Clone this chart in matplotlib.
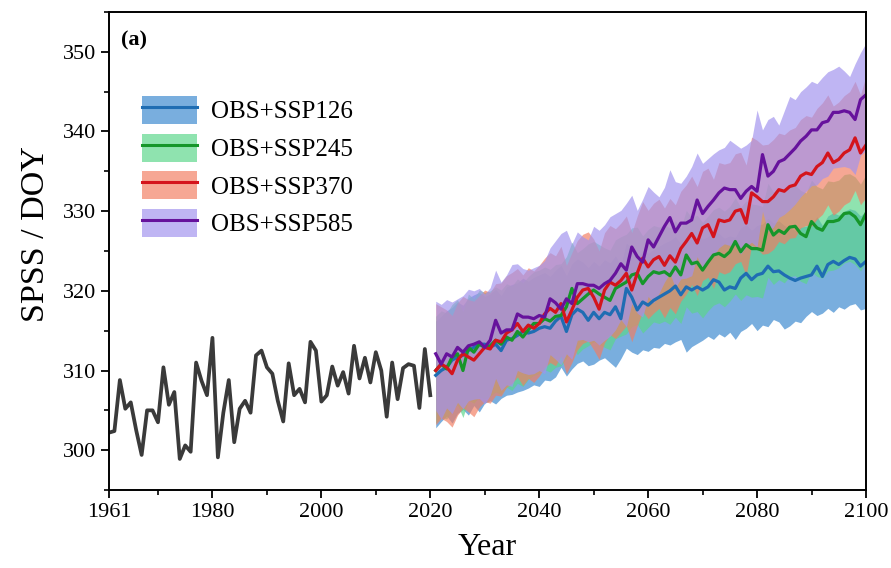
import matplotlib

matplotlib.use("Agg")

import matplotlib.pyplot as plt
import numpy as np
from matplotlib.lines import Line2D
from matplotlib.patches import Patch
from matplotlib.ticker import MultipleLocator

plt.rcParams["font.family"] = ["Liberation Serif", "DejaVu Serif"]

# --- observed SPSS (DOY), 1961-2020 ---
obs_years = np.arange(1961, 2021)
obs = [
    302.2, 302.4, 308.8, 305.2, 306.0, 302.5, 299.4, 305.0, 305.0, 303.5,
    310.4, 305.7, 307.3, 298.9, 300.6, 299.8, 311.0, 308.7, 306.9, 314.1,
    299.1, 304.7, 308.8, 301.0, 305.2, 306.2, 304.7, 311.9, 312.5, 310.4,
    309.6, 306.2, 303.6, 310.9, 306.9, 307.7, 306.0, 313.6, 312.5, 306.1,
    306.9, 310.5, 308.1, 309.8, 307.1, 313.1, 309.0, 311.6, 308.5, 312.3,
    310.0, 304.2, 311.0, 306.4, 310.3, 310.8, 310.6, 305.3, 312.7, 306.9,
]

# --- projections, 2021-2100 ---
proj_years = np.arange(2021, 2101)

ssp126 = [
    309.4, 310.0, 310.4, 311.3, 311.7, 311.9, 312.5, 312.9, 313.3, 313.3,
    312.9, 313.3, 312.5, 313.8, 314.0, 314.4, 314.9, 314.7, 314.9, 315.3,
    315.5, 315.3, 316.2, 316.8, 314.9, 317.0, 317.7, 317.3, 316.3, 317.3,
    316.5, 317.3, 317.0, 318.0, 316.5, 320.3, 319.2, 317.6, 318.6, 318.2,
    318.8, 319.2, 319.6, 320.0, 320.6, 319.5, 320.5, 320.1, 320.5, 320.1,
    320.5, 321.4, 321.1, 320.1, 320.5, 320.3, 321.6, 322.2, 321.4, 322.0,
    322.2, 323.1, 322.4, 322.5, 322.0, 321.6, 321.3, 321.6, 321.8, 322.0,
    323.1, 321.8, 323.3, 323.7, 323.3, 323.8, 324.2, 324.0, 323.1, 323.7,
]
ssp126_lo = [
    302.8, 303.6, 304.3, 303.4, 304.6, 305.1, 304.4, 305.6, 304.8, 305.9,
    306.2, 305.8, 306.5, 306.9, 307.0, 307.3, 307.5, 307.8, 308.2, 308.0,
    308.8, 308.7, 309.2, 310.4, 309.3, 310.2, 310.9, 311.2, 310.6, 310.8,
    311.3, 311.6, 311.0, 310.4, 311.5, 312.8, 312.3, 312.0, 312.6, 312.4,
    312.9, 312.8, 313.4, 313.2, 313.6, 313.9, 312.3, 313.0, 313.4, 313.8,
    314.3, 313.9, 314.6, 314.2, 314.8, 313.9, 314.9, 315.3, 315.9, 315.0,
    315.7, 315.5, 316.4, 316.1, 315.2, 315.6, 316.2, 316.0, 316.8, 317.4,
    316.9, 317.2, 317.8, 317.3, 318.0, 317.7, 318.2, 318.4, 317.6, 317.8,
]
ssp126_hi = [
    316.2, 316.8, 317.5, 317.9, 318.6, 318.2, 319.1, 319.5, 319.8, 319.3,
    319.6, 320.2, 319.4, 320.5, 320.8, 321.0, 321.6, 321.2, 321.7, 322.0,
    322.3, 321.8, 322.6, 323.2, 321.9, 323.4, 324.0, 323.6, 322.9, 323.7,
    323.1, 323.9, 323.5, 324.4, 323.2, 326.0, 325.4, 324.2, 325.0, 324.7,
    325.2, 325.6, 326.0, 326.3, 326.8, 325.9, 326.7, 326.4, 326.9, 326.5,
    326.8, 327.5, 327.2, 326.6, 326.9, 326.7, 327.9, 328.3, 327.6, 328.2,
    328.4, 329.1, 328.5, 328.8, 328.2, 327.9, 327.6, 328.0, 328.1, 328.4,
    329.3, 328.2, 329.4, 329.8, 329.5, 330.0, 330.3, 330.1, 329.4, 330.0,
]

ssp245 = [
    310.0, 310.8, 310.2, 311.7, 312.1, 310.0, 312.9, 312.3, 313.3, 312.9,
    313.1, 313.8, 313.3, 314.2, 313.8, 314.9, 314.2, 315.1, 315.9, 315.9,
    316.5, 316.2, 316.8, 316.9, 318.0, 320.3, 318.4, 319.0, 319.6, 320.1,
    319.6, 319.2, 318.8, 320.3, 320.7, 321.1, 322.0, 322.2, 320.9, 321.8,
    322.4, 322.2, 322.4, 321.9, 323.0, 322.0, 324.5, 323.4, 323.6, 322.6,
    323.6, 324.5, 324.7, 324.3, 324.9, 326.2, 324.9, 325.8, 325.3, 325.3,
    325.1, 328.3, 327.0, 327.6, 327.2, 328.0, 328.1, 327.2, 326.8, 328.7,
    327.9, 327.6, 328.7, 328.7, 328.9, 329.7, 329.8, 329.3, 328.3, 329.7,
]
ssp245_lo = [
    303.4, 304.2, 303.9, 305.0, 305.7, 304.1, 306.3, 305.9, 306.7, 306.4,
    306.8, 307.3, 307.0, 307.9, 307.5, 308.4, 308.0, 308.9, 309.4, 309.6,
    310.1, 309.8, 310.4, 310.6, 311.5, 313.2, 312.0, 312.7, 313.1, 313.6,
    313.3, 312.9, 312.6, 314.0, 314.3, 314.6, 315.5, 315.8, 314.7, 315.4,
    316.1, 315.9, 316.2, 315.8, 316.7, 315.9, 318.0, 317.2, 317.4, 316.6,
    317.5, 318.2, 318.5, 318.0, 318.7, 319.6, 318.8, 319.5, 319.2, 319.3,
    319.1, 321.7, 320.8, 321.4, 321.0, 321.8, 321.9, 321.2, 320.9, 322.4,
    321.8, 321.6, 322.5, 322.6, 322.9, 323.5, 323.7, 323.3, 322.5, 323.6,
]
ssp245_hi = [
    316.8, 317.5, 317.2, 318.3, 318.9, 317.4, 319.6, 319.0, 320.1, 319.8,
    320.0, 320.5, 320.1, 320.9, 320.6, 321.5, 321.0, 321.8, 322.4, 322.6,
    323.0, 322.7, 323.3, 323.4, 324.3, 326.1, 324.8, 325.3, 325.9, 326.2,
    325.8, 325.4, 325.1, 326.4, 326.8, 327.1, 327.9, 328.0, 326.9, 327.7,
    328.2, 328.0, 328.3, 327.9, 328.8, 327.8, 330.1, 329.2, 329.5, 328.6,
    329.4, 330.2, 330.5, 330.0, 330.6, 331.7, 330.5, 331.3, 330.9, 330.8,
    330.6, 333.5, 332.4, 332.9, 332.5, 333.2, 333.3, 332.6, 332.3, 333.9,
    333.1, 332.8, 333.8, 333.7, 333.9, 334.6, 334.7, 334.3, 333.4, 334.6,
]

ssp370 = [
    310.0, 310.8, 310.4, 309.6, 311.3, 312.1, 311.7, 311.3, 312.1, 312.9,
    312.7, 313.8, 313.6, 314.7, 315.1, 315.9, 314.9, 315.7, 315.3, 315.9,
    317.1, 317.8, 317.3, 318.4, 316.1, 317.6, 319.2, 320.1, 320.3, 319.2,
    317.7, 320.1, 321.1, 320.7, 321.3, 322.2, 320.1, 322.2, 324.1, 323.0,
    323.9, 324.3, 323.2, 324.4, 323.6, 325.3, 326.2, 327.2, 326.0, 327.9,
    328.3, 326.8, 328.9, 328.7, 328.9, 330.0, 330.2, 328.5, 332.3, 331.8,
    331.2, 331.2, 331.8, 332.7, 332.5, 333.1, 333.3, 334.4, 334.8, 334.6,
    335.6, 336.1, 337.3, 336.1, 336.5, 337.3, 337.7, 339.2, 337.3, 338.3,
]
ssp370_lo = [
    303.2, 304.0, 303.6, 302.9, 304.4, 305.3, 304.8, 304.2, 305.4, 306.1,
    305.9, 306.9, 306.8, 307.9, 308.4, 309.2, 308.1, 309.0, 308.5, 309.3,
    310.4, 311.0, 310.6, 311.8, 309.6, 311.0, 312.6, 313.4, 313.7, 312.6,
    311.4, 313.5, 314.5, 314.0, 314.8, 315.6, 313.6, 315.6, 317.4, 316.5,
    317.2, 317.8, 316.6, 317.9, 317.1, 318.7, 319.6, 320.8, 319.4, 321.3,
    321.7, 320.3, 322.4, 322.1, 322.4, 323.4, 323.7, 321.9, 325.7, 325.3,
    324.6, 324.7, 325.2, 326.2, 325.9, 326.6, 326.7, 327.9, 328.2, 328.1,
    329.0, 329.6, 330.8, 329.5, 330.0, 330.8, 331.2, 332.6, 330.8, 331.7,
]
ssp370_hi = [
    318.4, 318.0, 317.6, 316.9, 318.5, 319.3, 318.9, 318.7, 319.4, 320.1,
    319.8, 320.9, 321.0, 321.9, 322.3, 322.8, 322.0, 322.9, 322.5, 323.2,
    324.1, 324.8, 324.4, 325.6, 323.2, 324.8, 326.3, 327.1, 327.4, 326.5,
    325.0, 327.3, 328.2, 327.8, 328.5, 329.4, 327.3, 329.4, 331.2, 330.1,
    331.0, 331.5, 330.4, 331.6, 330.8, 332.5, 333.3, 334.4, 333.1, 335.0,
    335.4, 334.0, 336.1, 335.9, 336.1, 337.2, 337.4, 335.8, 339.3, 338.9,
    338.3, 338.4, 339.0, 339.8, 339.6, 340.2, 340.5, 341.5, 342.0, 341.8,
    342.9, 343.6, 344.6, 343.2, 343.7, 344.5, 345.0, 346.3, 344.6, 347.0,
]

ssp585 = [
    312.1, 310.8, 312.1, 311.7, 312.9, 312.3, 313.1, 313.3, 313.6, 312.9,
    313.8, 316.3, 314.7, 315.1, 315.1, 317.1, 316.7, 316.7, 316.5, 316.9,
    316.7, 319.0, 318.5, 317.7, 319.0, 318.4, 320.9, 320.9, 320.7, 320.7,
    320.3, 320.9, 321.3, 322.2, 323.4, 322.6, 325.5, 324.3, 323.6, 326.4,
    325.5, 326.8, 328.1, 329.2, 327.4, 328.5, 328.5, 328.9, 331.4, 329.7,
    330.6, 331.4, 332.3, 332.9, 332.7, 332.7, 331.6, 332.5, 333.1, 332.5,
    337.1, 334.4, 335.0, 336.2, 336.5, 337.2, 337.9, 338.8, 339.4, 340.2,
    340.2, 341.1, 341.3, 342.4, 342.4, 342.6, 342.4, 341.5, 344.0, 344.6,
]
ssp585_lo = [
    305.0, 303.9, 305.3, 304.6, 306.0, 305.2, 306.2, 306.4, 306.5, 305.8,
    306.9, 309.0, 307.5, 308.2, 308.0, 310.0, 309.7, 309.5, 309.6, 310.0,
    309.6, 312.0, 311.4, 310.7, 312.1, 311.4, 313.8, 313.9, 313.6, 313.8,
    313.2, 313.8, 314.3, 315.1, 316.4, 315.5, 318.4, 317.2, 316.7, 319.3,
    318.5, 319.7, 321.1, 322.2, 320.4, 321.5, 321.6, 321.9, 324.3, 322.8,
    323.6, 324.4, 325.4, 325.9, 325.7, 325.8, 324.6, 325.6, 326.1, 325.5,
    330.0, 327.5, 328.0, 329.2, 329.6, 330.2, 330.9, 331.8, 332.5, 333.2,
    333.3, 334.1, 334.4, 335.4, 335.5, 335.6, 335.4, 334.6, 337.0, 337.6,
]
ssp585_hi = [
    318.7, 318.3, 318.9, 318.6, 319.0, 319.4, 320.2, 320.0, 320.3, 319.6,
    320.4, 322.6, 321.1, 322.0, 323.3, 323.4, 322.8, 322.6, 322.9, 323.2,
    323.8, 325.4, 326.3, 327.2, 327.6, 325.9, 327.4, 326.8, 326.4, 328.1,
    327.6, 328.3, 329.3, 329.7, 330.1, 331.0, 332.0, 330.1, 331.5, 333.1,
    332.4, 331.8, 333.0, 335.2, 333.7, 333.5, 334.4, 335.6, 337.3, 336.0,
    336.6, 337.2, 337.7, 338.0, 338.9, 338.4, 337.9, 338.3, 338.9, 342.7,
    340.2, 341.5, 341.9, 340.8, 342.6, 344.4, 344.0, 345.0, 345.6, 346.3,
    346.0, 346.8, 347.5, 347.8, 348.2, 347.6, 346.9, 348.5, 349.9, 351.1,
]

labels = ["OBS+SSP126", "OBS+SSP245", "OBS+SSP370", "OBS+SSP585"]
line_colors = ["#1f6db3", "#16962a", "#d4141c", "#66129c"]
fill_colors = ["#3a88cf", "#5ad68a", "#f27d62", "#a193ee"]
series = [
    (ssp126, ssp126_lo, ssp126_hi),
    (ssp245, ssp245_lo, ssp245_hi),
    (ssp370, ssp370_lo, ssp370_hi),
    (ssp585, ssp585_lo, ssp585_hi),
]

fig = plt.figure(figsize=(8.91, 5.68), dpi=100)
ax = fig.add_axes([0.1223, 0.1373, 0.8496, 0.8416])

# bands first, in scenario order, so later ones sit on top
for (mid, lo, hi), fc in zip(series, fill_colors):
    ax.fill_between(proj_years, lo, hi, color=fc, alpha=0.68, linewidth=0)

ax.plot(obs_years, obs, color="#3a3a3a", linewidth=2.7)
for (mid, lo, hi), lc in zip(series, line_colors):
    ax.plot(proj_years, mid, color=lc, linewidth=2.3)

ax.set_xlim(1961, 2100)
ax.set_ylim(295, 355)
ax.set_xticks([1961, 1980, 2000, 2020, 2040, 2060, 2080, 2100])
ax.xaxis.set_minor_locator(MultipleLocator(10))
ax.yaxis.set_major_locator(MultipleLocator(10))
ax.yaxis.set_minor_locator(MultipleLocator(5))
ax.tick_params(which="major", direction="out", length=6, width=1.3, labelsize=16)
ax.tick_params(which="minor", direction="out", length=3.5, width=1.2)
for sp in ax.spines.values():
    sp.set_linewidth(1.4)

ax.set_xlabel("Year", fontsize=23, labelpad=8)
ax.set_ylabel("SPSS / DOY", fontsize=24.5)
ax.yaxis.set_label_coords(-0.0765, 0.535)
ax.text(0.016, 0.962, "(a)", transform=ax.transAxes, fontsize=16,
        fontweight="bold", va="top", ha="left")

handles = [
    (Patch(facecolor=fc, alpha=0.68, edgecolor="none"), Line2D([], [], color=lc, linewidth=2.2))
    for fc, lc in zip(fill_colors, line_colors)
]
ax.legend(handles, labels, loc="upper left", bbox_to_anchor=(0.031, 0.845),
          frameon=False, fontsize=18, handlelength=2.2, handleheight=1.35,
          labelspacing=0.38, handletextpad=0.56, borderaxespad=0)

fig.savefig("out.png", dpi=100)
